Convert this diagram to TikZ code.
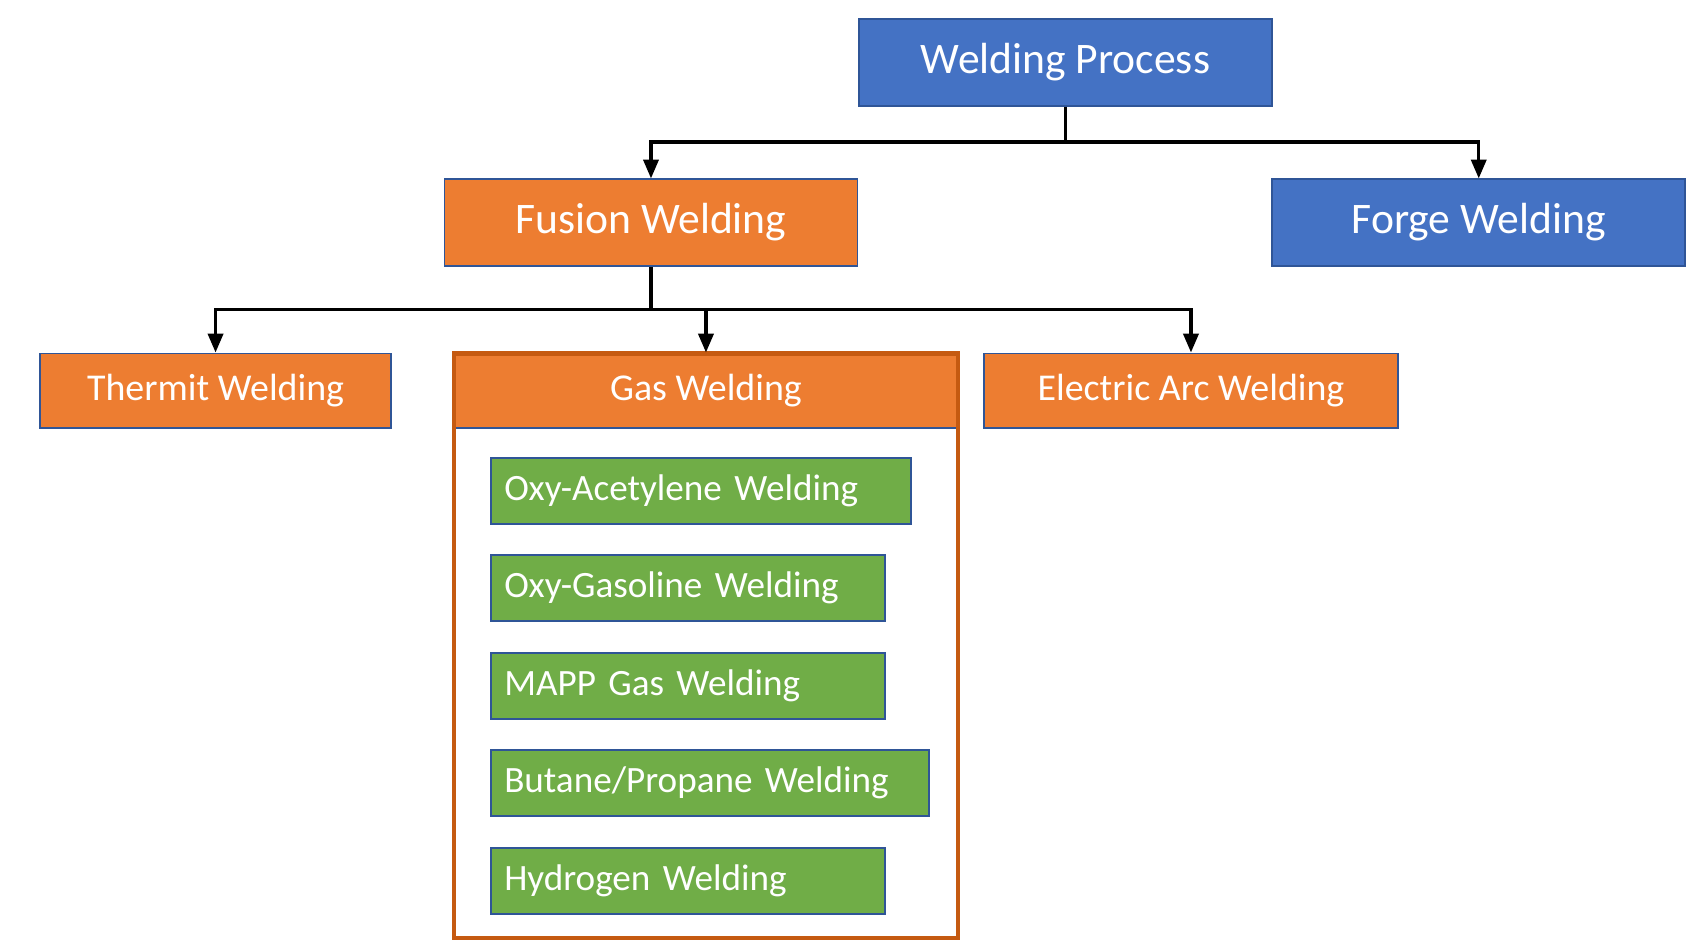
\documentclass[tikz,border=0pt]{standalone}
\usepackage{fontspec}
\setmainfont{Carlito}
\usepackage{xcolor}
\usetikzlibrary{arrows.meta,positioning,calc}
\definecolor{wblue}{HTML}{4472C4}
\definecolor{worange}{HTML}{ED7D31}
\definecolor{wgreen}{HTML}{70AD47}
\definecolor{wedge}{HTML}{2F5597}
\definecolor{wframe}{HTML}{C55A11}

\begin{document}
\begin{tikzpicture}[x=0.01cm, y=-0.01cm,
    box/.style={rectangle, draw=wedge, line width=0.5pt, text=white, inner sep=0pt},
    top/.style={box, fill=wblue, minimum width=3.83cm, minimum height=0.80cm, font=\fontsize{11.5}{13}\selectfont},
    fusion/.style={box, fill=worange, minimum width=3.83cm, minimum height=0.80cm, font=\fontsize{11.5}{13}\selectfont},
    kind/.style={box, fill=worange, minimum height=0.69cm, font=\fontsize{10}{12}\selectfont},
    gas/.style={box, fill=wgreen, minimum height=0.61cm, anchor=west, align=left, text width=#1, inner xsep=0.12cm, font=\fontsize{9.8}{12}\selectfont},
    arr/.style={-{Triangle[length=5pt,width=4pt]}, line width=0.9pt},
]
\useasboundingbox (0,0) rectangle (1568,883);

% Levels
\node[top] (wp) at (988.5,58) {Welding Process};
\node[fusion] (fus) at (604,206.5) {Fusion Welding};
\node[top] (forge) at (1372,206.5) {Forge Welding};

\node[kind, minimum width=3.26cm] (therm) at (200,362.5) {Thermit Welding};
\node[kind, minimum width=4.66cm] (gasw) at (655,362.5) {Gas Welding};
\node[kind, minimum width=3.84cm] (arc) at (1105,362.5) {Electric Arc Welding};

% Gas welding frame
\draw[wframe, line width=1.1pt] (421,328) rectangle (889,870);

% Gas welding kinds
\node[gas=3.65cm] (oxa) at (455,455.5) {Oxy-Acetylene Welding};
\node[gas=3.41cm] (oxg) at (455,545.5) {Oxy-Gasoline Welding};
\node[gas=3.41cm] (mapp) at (455,636.5) {MAPP Gas Welding};
\node[gas=3.82cm] (buta) at (455,726.5) {Butane/Propane Welding};
\node[gas=3.41cm] (hydr) at (455,817.5) {Hydrogen Welding};

% Connectors
\draw[line width=0.9pt] (wp.south) -- ++(0,33) coordinate (j1);
\draw[arr] (j1) -| (fus.north);
\draw[arr] (j1) -| (forge.north);
\draw[line width=0.9pt] (fus.south) -- ++(0,40) coordinate (j2);
\draw[arr] (j2) -| (therm.north);
\draw[arr] (j2) -| (gasw.north);
\draw[arr] (j2) -| (arc.north);

\end{tikzpicture}
\end{document}
